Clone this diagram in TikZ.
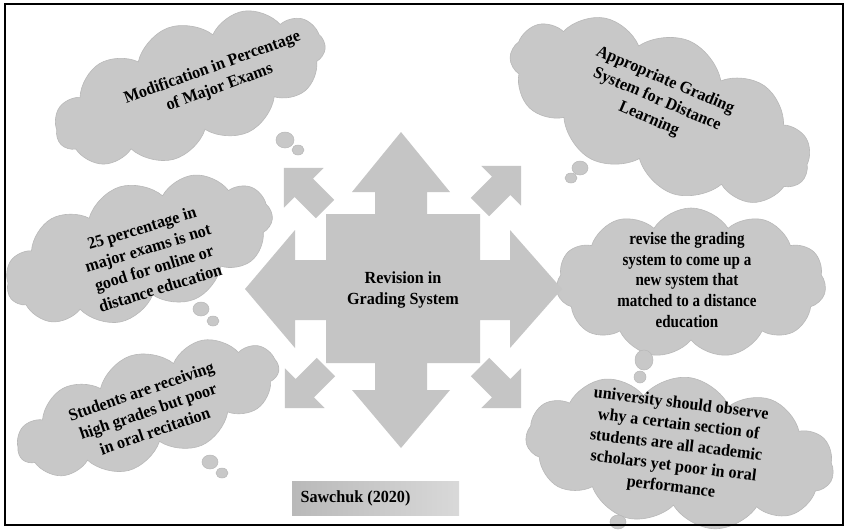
\documentclass[tikz,border=0pt]{standalone}
\usepackage{fontspec}
\usetikzlibrary{shapes.symbols}
\newfontfamily\cfont{Liberation Serif}[FakeStretch=0.95]
\newfontfamily\nfont{Liberation Serif}[FakeStretch=0.86]
\definecolor{cloudgray}{RGB}{200,200,200}
\definecolor{cloudedge}{RGB}{184,184,184}
\definecolor{arrowgray}{RGB}{197,197,197}
\tikzset{
  thought/.style={cloud, cloud puffs=11, cloud puff arc=115, fill=cloudgray,
    draw=cloudedge, line width=0.6pt, inner sep=0pt},
  bubble/.style={fill=cloudgray, draw=cloudedge, line width=0.5pt},
  label/.style={font=\cfont\bfseries\fontsize{17}{21}\selectfont, align=center, text=black},
  narrowlabel/.style={label, font=\nfont\bfseries\fontsize{17.5}{20.8}\selectfont},
  arrowfill/.style={fill=arrowgray},
}
% a 45-degree block arrow of length 58 starting at the given tail
\newcommand\diagblock[2]{%
  \fill[arrowfill, shift={(#1)}, rotate=#2]
    (0,-13) -- (30,-13) -- (30,-28) -- (58,0) -- (30,28) -- (30,13) -- (0,13) -- cycle;}
\begin{document}
\begin{tikzpicture}[x=1pt,y=-1pt]
\useasboundingbox (0,0) rectangle (847,531);
\fill[white] (0,0) rectangle (847,531);

% clouds
\node[thought, minimum width=284pt, minimum height=128pt, rotate=20] (c1) at (190,88) {};
\node[thought, minimum width=320pt, minimum height=150pt, rotate=-23] (c2) at (660,110) {};
\node[thought, minimum width=276pt, minimum height=132pt, rotate=17] (c3) at (139,250) {};
\node[thought, minimum width=270pt, minimum height=150pt] (c4) at (691,283) {};
\node[thought, minimum width=274pt, minimum height=110pt, rotate=19] (c5) at (148,408) {};
\node[thought, minimum width=310pt, minimum height=150pt, rotate=-7] (c6) at (680,452) {};

% thought bubbles trailing from the clouds
\fill[bubble] (285,140) ellipse (9 and 8);
\fill[bubble] (298,150) ellipse (6 and 5);
\fill[bubble] (580,168) ellipse (8 and 7);
\fill[bubble] (571,178) ellipse (6 and 5);
\fill[bubble] (201,309) ellipse (8 and 7);
\fill[bubble] (213,321) ellipse (6 and 5);
\fill[bubble] (644,360) ellipse (9 and 10);
\fill[bubble] (640,377) ellipse (6 and 6);
\fill[bubble] (210,462) ellipse (8 and 7);
\fill[bubble] (222,473) ellipse (6 and 5);
\fill[bubble] (618,522) ellipse (8 and 7);

% central four-way block arrow
\fill[arrowfill] (401,132) -- (450,192) -- (427,192) -- (427,214) -- (480,214)
  -- (480,260) -- (510,260) -- (510,230) -- (562,289) -- (510,348) -- (510,320)
  -- (480,320) -- (480,363) -- (427,363) -- (427,390) -- (450,390) -- (401,448)
  -- (352,390) -- (375,390) -- (375,363) -- (326,363) -- (326,320) -- (295,320)
  -- (295,348) -- (245,289) -- (295,230) -- (295,260) -- (326,260) -- (326,214)
  -- (375,214) -- (375,192) -- (352,192) -- cycle;
\node[label] (hub) at (403,290) {Revision in\\Grading System};

% diagonal block arrows
\diagblock{325,209}{135}
\diagblock{480,207}{45}
\diagblock{326,367}{225}
\diagblock{480,367}{-45}

% cloud texts
\node[label, rotate=20] (t1) at (216,78) {Modification in Percentage\\of Major Exams};
\node[label, rotate=-23] (t2) at (657,100) {Appropriate Grading\\System for Distance\\Learning};
\node[label, rotate=17] (t3) at (151,258) {25 percentage in\\major exams is not\\good for online or\\distance education};
\node[narrowlabel] (t4) at (687,280) {revise the grading\\system to come up a\\new system that\\matched to a distance\\education};
\node[label, rotate=19] (t5) at (148,411) {Students are receiving\\high grades but poor\\in oral recitation};
\node[label, rotate=-7] (t6) at (676,446) {university should observe\\why a certain section of\\students are all academic\\scholars yet poor in oral\\performance};

% source box
\shade[left color=gray!55, right color=gray!30] (292,481) rectangle (459,515);
\node[label, anchor=west] (src) at (297,498) {Sawchuk (2020)};

% frame
\draw[line width=1.5pt] (5,4) rectangle (843,525);
\end{tikzpicture}
\end{document}
